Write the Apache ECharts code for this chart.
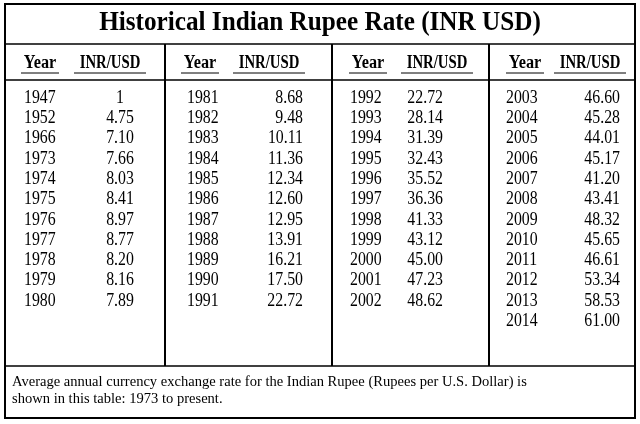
<!DOCTYPE html>
<html>
<head>
<meta charset="utf-8">
<script src="https://cdn.jsdelivr.net/npm/echarts@6/dist/echarts.min.js"></script>
<style>html,body{margin:0;padding:0;background:#fff}#main{width:640px;height:424px}</style>
</head>
<body>
<div id="main"></div>
<script>
// 表格数据（按列分组）
var years1 = ['1947', '1952', '1966', '1973', '1974', '1975', '1976', '1977', '1978', '1979', '1980'];
var rates1 = ['1', '4.75', '7.10', '7.66', '8.03', '8.41', '8.97', '8.77', '8.20', '8.16', '7.89'];
var years2 = ['1981', '1982', '1983', '1984', '1985', '1986', '1987', '1988', '1989', '1990', '1991'];
var rates2 = ['8.68', '9.48', '10.11', '11.36', '12.34', '12.60', '12.95', '13.91', '16.21', '17.50', '22.72'];
var years3 = ['1992', '1993', '1994', '1995', '1996', '1997', '1998', '1999', '2000', '2001', '2002'];
var rates3 = ['22.72', '28.14', '31.39', '32.43', '35.52', '36.36', '41.33', '43.12', '45.00', '47.23', '48.62'];
var years4 = ['2003', '2004', '2005', '2006', '2007', '2008', '2009', '2010', '2011', '2012', '2013', '2014'];
var rates4 = ['46.60', '45.28', '44.01', '45.17', '41.20', '43.41', '48.32', '45.65', '46.61', '53.34', '58.53', '61.00'];
var titleText = 'Historical Indian Rupee Rate (INR USD)';
var noteLines = ['Average annual currency exchange rate for the Indian Rupee (Rupees per U.S. Dollar) is',
    'shown in this table: 1973 to present.'];

var font = '"Liberation Serif", "DejaVu Serif", serif';
var myChart = echarts.init(document.getElementById('main'), null, {renderer: 'canvas'});
var els = [];

function line(x1, y1, x2, y2, w) {
    els.push({type: 'line', shape: {x1: x1, y1: y1, x2: x2, y2: y2}, style: {stroke: '#000', lineWidth: w}});
}
// sx: 横向压缩，模仿原图的窄字体
function txt(x, y, s, size, align, bold, sx) {
    els.push({type: 'text', x: x, y: y, scaleX: sx || 1, style: {text: s, font: (bold ? 'bold ' : '') + size + 'px ' + font,
        fill: '#000', align: align, verticalAlign: 'middle'}});
}

// 外框与分隔线
els.push({type: 'rect', shape: {x: 5, y: 4, width: 630, height: 414}, style: {fill: 'none', stroke: '#000', lineWidth: 2}});
line(5, 44, 635, 44, 1.5);
line(5, 80, 635, 80, 1.5);
line(5, 366, 635, 366, 1.5);
[165, 332, 489].forEach(function (x) { line(x, 44, x, 366, 2); });

txt(320, 23, titleText, 28, 'center', true, 0.9);

// 表头
var cols = [
    {years: years1, rates: rates1, yx: 24, rx: 120, ra: 'center', hy: 40, hr: 110},
    {years: years2, rates: rates2, yx: 187, rx: 303, ra: 'right', hy: 200, hr: 269},
    {years: years3, rates: rates3, yx: 350, rx: 443, ra: 'right', hy: 368, hr: 437},
    {years: years4, rates: rates4, yx: 506, rx: 620, ra: 'right', hy: 525, hr: 590}
];
cols.forEach(function (c) {
    txt(c.hy, 63, 'Year', 18, 'center', true, 0.9);
    txt(c.hr, 63, 'INR/USD', 18, 'center', true, 0.82);
    line(c.hy - 19, 73, c.hy + 19, 73, 1);
    line(c.hr - 36, 73, c.hr + 36, 73, 1);
    for (var i = 0; i < c.years.length; i++) {
        var y = 98 + i * 20.3;
        txt(c.yx, y, c.years[i], 18, 'left', false, 0.88);
        txt(c.rx, y, c.rates[i], 18, c.ra, false, 0.88);
    }
});

txt(12, 382, noteLines[0], 15, 'left', false, 0.97);
txt(12, 399, noteLines[1], 15, 'left', false, 0.97);

myChart.setOption({animation: false, graphic: {elements: els}});
</script>
</body>
</html>
